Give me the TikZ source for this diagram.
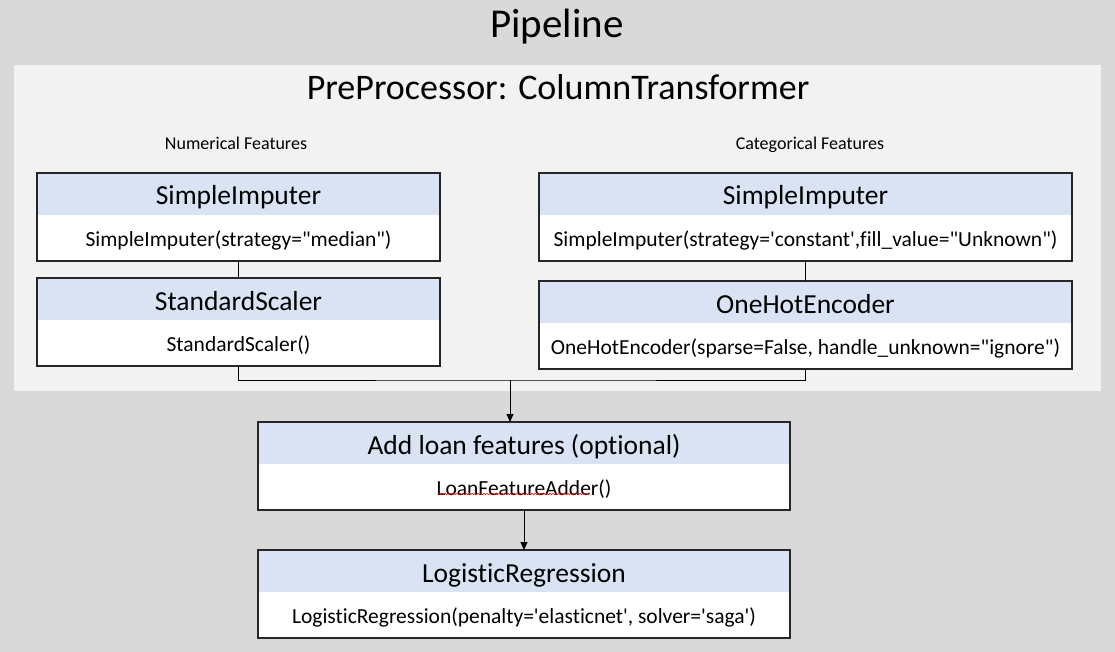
\documentclass[tikz,border=0pt]{standalone}
\usepackage{fontspec}
\setmainfont{Carlito}[Ligatures={TeX,NoCommon}]
\usepackage{tikz}
\usetikzlibrary{arrows.meta}
\usetikzlibrary{positioning}
\usetikzlibrary{decorations.pathmorphing}
\definecolor{bggray}{HTML}{D9D9D9}
\definecolor{panelgray}{HTML}{F2F2F2}
\definecolor{headblue}{HTML}{DAE3F3}
\newcommand{\dq}{\textquotedbl}
\newcommand{\sq}{\textquotesingle}
\tikzstyle{head} = [rectangle, fill=headblue, minimum height=42pt, inner sep=0pt, outer sep=0pt, text centered, text height=22pt, text depth=0pt, font=\fontsize{27.5}{30}\selectfont]
\tikzstyle{body} = [rectangle, fill=white, minimum height=46pt, inner sep=0pt, outer sep=0pt, text centered, text height=16.4pt, text depth=0pt, font=\fontsize{21.5}{24}\selectfont]
\tikzstyle{label} = [anchor=base, inner sep=0pt, font=\fontsize{18}{21}\selectfont]
\tikzstyle{frame} = [draw=black!85, line width=1.3pt]
\tikzstyle{link} = [draw=black, line width=0.9pt]
\tikzstyle{arrow} = [link, -{Triangle[length=8pt,width=7pt]}]

\begin{document}
\begin{tikzpicture}[x=1pt,y=-1pt]

 % background and column transformer panel
 \fill[bggray] (0,0) rectangle (1115,652);
 \useasboundingbox (0,0) rectangle (1115,652);
 \fill[panelgray] (14,65) rectangle (1101,391);

 \node (title) [label, font=\fontsize{41}{46}\selectfont] at (557,38) {Pipeline};
 \node (pretitle) [label, font=\fontsize{36}{40}\selectfont] at (558,100) {PreProcessor: ColumnTransformer};
 \node (numlbl) [label] at (236,150) {Numerical Features};
 \node (catlbl) [label] at (810,150) {Categorical Features};

 % numerical features
 \node (numimp) [head, minimum width=403pt] at (238.5,194) {SimpleImputer};
 \node (numimpb) [body, minimum width=403pt, below=0pt of numimp] {SimpleImputer(strategy=\dq median\dq)};
 \draw[frame] (numimp.north west) rectangle (numimpb.south east);

 \node (numsc) [head, minimum width=403pt] at (238.5,299) {StandardScaler};
 \node (numscb) [body, minimum width=403pt, below=0pt of numsc] {StandardScaler()};
 \draw[frame] (numsc.north west) rectangle (numscb.south east);

 % categorical features
 \node (catimp) [head, minimum width=533pt] at (805.5,194) {SimpleImputer};
 \node (catimpb) [body, minimum width=533pt, below=0pt of catimp] {SimpleImputer(strategy=\sq constant\sq,fill\_value=\dq Unknown\dq)};
 \draw[frame] (catimp.north west) rectangle (catimpb.south east);

 \node (cathot) [head, minimum width=533pt] at (805.5,302) {OneHotEncoder};
 \node (cathotb) [body, minimum width=533pt, below=0pt of cathot] {OneHotEncoder(sparse=False, handle\_unknown=\dq ignore\dq)};
 \draw[frame] (cathot.north west) rectangle (cathotb.south east);

 % loan features and model
 \node (loan) [head, minimum width=532pt] at (524,443) {Add loan features (optional)};
 \node (loanb) [body, minimum width=532pt, below=0pt of loan] {LoanFeatureAdder()};
 \draw[frame] (loan.north west) rectangle (loanb.south east);
 \draw[red, line width=0.5pt, decorate, decoration={snake, amplitude=0.7pt, segment length=3pt}] (438,494) -- (590,494);

 \node (lr) [head, minimum width=532pt] at (524,571) {LogisticRegression};
 \node (lrb) [body, minimum width=532pt, below=0pt of lr] {LogisticRegression(penalty=\sq elasticnet\sq, solver=\sq saga\sq)};
 \draw[frame] (lr.north west) rectangle (lrb.south east);

 % connectors
 \coordinate (join) at (510,380);
 \draw[link] (numimpb.south) -- (numsc.north);
 \draw[link] (catimpb.south) -- (cathot.north);
 \draw[link] (numscb.south) |- (join) -| (cathotb.south);
 \draw[arrow] (join) -- (join |- loan.north);
 \draw[arrow] (loanb.south) -- (lr.north);

\end{tikzpicture}
\end{document}
